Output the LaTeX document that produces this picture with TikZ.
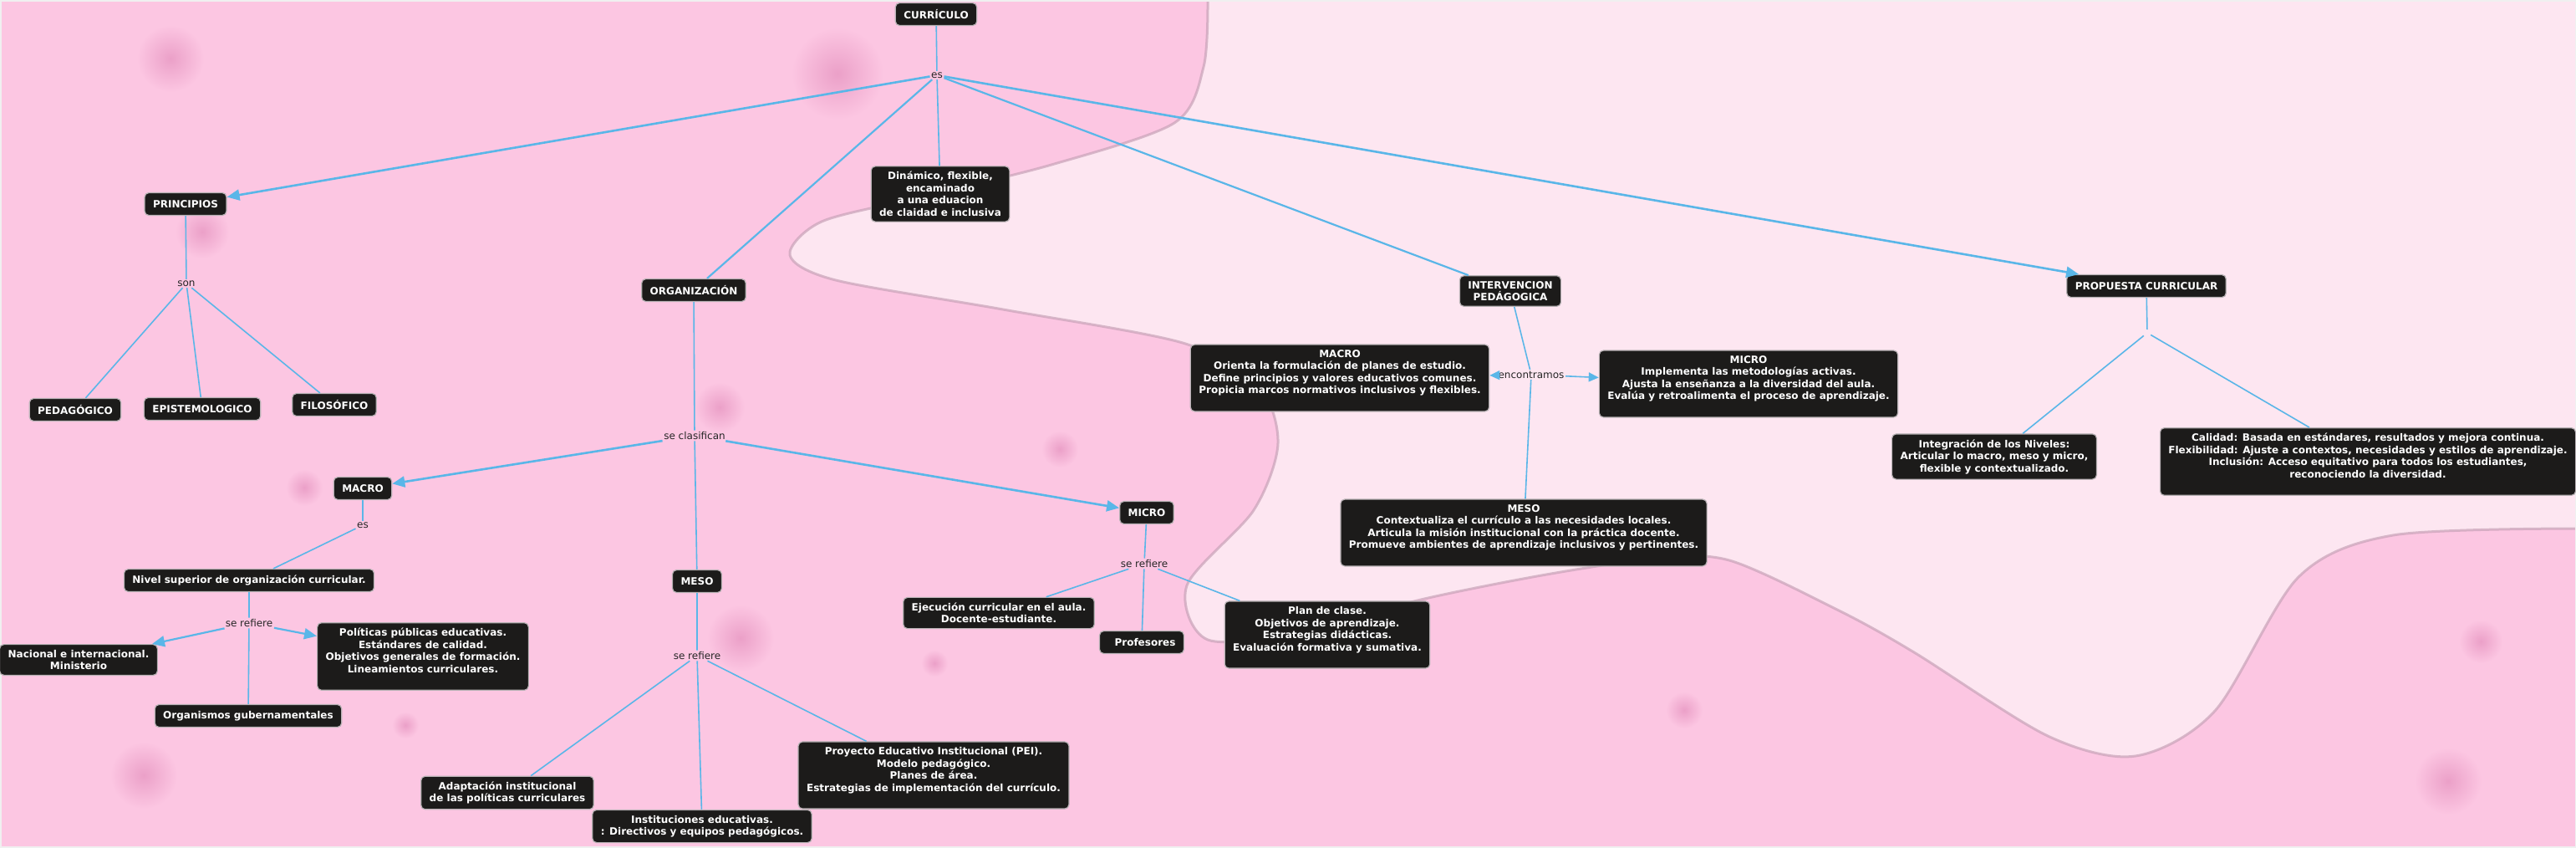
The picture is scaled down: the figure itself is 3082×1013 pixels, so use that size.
\documentclass[tikz,border=0pt]{standalone}
\usepackage{fontspec}
\setmainfont{DejaVu Sans}
\usetikzlibrary{arrows.meta, positioning}

\definecolor{pinkdeep}{HTML}{FCC6E2}
\definecolor{pinklight}{HTML}{FDE6F1}
\definecolor{mauve}{HTML}{C8A2B8}
\definecolor{spotpink}{HTML}{EBA0C8}
\definecolor{boxblack}{HTML}{1C1B1A}
\definecolor{boxedge}{HTML}{B8B2B5}
\definecolor{linkblue}{HTML}{5AB6E8}

\begin{document}
\begin{tikzpicture}[
    x=1pt, y=-1pt,
    % Define box styles
    concept/.style={
        rectangle,
        rounded corners=5pt,
        fill=boxblack,
        draw=boxedge,
        line width=1.2pt,
        text=white,
        minimum height=27pt,
        inner xsep=10pt,
        inner ysep=6.5pt,
        align=center,
        font=\fontsize{12}{14.5}\selectfont\bfseries
    },
    linkword/.style={
        inner sep=1.5pt,
        text=black!85,
        font=\fontsize{12}{13}\selectfont
    },
    link/.style={draw=linkblue, line width=1.6pt},
    arrowlink/.style={link, -{Triangle[length=15pt, width=13pt]}}
]
    \useasboundingbox (0,0) rectangle (3082,1013);

    % =================================================================
    % --- Background ---
    % =================================================================
    \fill[pinkdeep] (0,0) rectangle (3082,1013);
    \fill[pinklight] (3082,0) -- (1445,0) -- plot[smooth] coordinates {(1445,0) (1440,80) (1405,147) (1258,197) (1100,236) (983,265) (945,305) (1000,335) (1200,370) (1415,410) (1505,460) (1529,530) (1500,610) (1420,700) (1445,765) (1560,755) (1700,717) (1850,687) (1980,668) (2069,670) (2200,730) (2290,780) (2450,880) (2555,904) (2650,850) (2750,690) (2863,640) (3082,632)} -- cycle;
    \draw[mauve, line width=3pt, opacity=0.7] plot[smooth] coordinates {(1445,0) (1440,80) (1405,147) (1258,197) (1100,236) (983,265) (945,305) (1000,335) (1200,370) (1415,410) (1505,460) (1529,530) (1500,610) (1420,700) (1445,765) (1560,755) (1700,717) (1850,687) (1980,668) (2069,670) (2200,730) (2290,780) (2450,880) (2555,904) (2650,850) (2750,690) (2863,640) (3082,632)};
    \foreach \x/\y/\r in {204/70/40, 1002/88/55, 242/277/32, 861/487/30, 364/583/22, 886/763/40, 172/927/40, 485/867/16, 1268/537/22, 1118/793/16, 2968/767/26, 2015/849/22, 2929/934/40} {
        \shade[inner color=spotpink, outer color=pinkdeep] (\x,\y) circle (\r);
    }
    \draw[gray!12, line width=3pt] (0,0) rectangle (3082,1013);

    % =================================================================
    % --- Top level ---
    % =================================================================
    \node[concept] (curriculo_box) at (1120,17) {CURRÍCULO};
    \node[linkword] (es_top) at (1121,90) {es};
    \node[concept] (principios_box) at (222,244) {PRINCIPIOS};
    \node[concept] (dinamico_box) at (1125,232) {Dinámico, flexible,\\encaminado\\a una eduacion\\de claidad e inclusiva};
    \node[concept] (organizacion_box) at (830,347) {ORGANIZACIÓN};
    \node[concept] (intervencion_box) at (1807,348) {INTERVENCION\\PEDÁGOGICA};
    \node[concept] (propuesta_box) at (2568,342) {PROPUESTA CURRICULAR};

    \draw[link] (curriculo_box) -- (es_top);
    \draw[link] (es_top) -- (dinamico_box);
    \draw[arrowlink, line width=2.6pt] (es_top) -- (principios_box);
    \draw[arrowlink, line width=2.6pt] (es_top) -- (propuesta_box);
    \draw[link, line width=2.2pt] (es_top) -- (organizacion_box);
    \draw[link, line width=2.2pt] (es_top) -- (intervencion_box);

    % Principios
    \node[linkword] (son_lbl) at (223,339) {son};
    \node[concept] (pedagogico_box) at (90,490) {PEDAGÓGICO};
    \node[concept] (epistemologico_box) at (242,489) {EPISTEMOLOGICO};
    \node[concept] (filosofico_box) at (400,484) {FILOSÓFICO};
    \draw[link] (principios_box) -- (son_lbl);
    \foreach \target in {pedagogico_box, epistemologico_box, filosofico_box} {
        \draw[link] (son_lbl) -- (\target);
    }

    % =================================================================
    % --- Organizacion ---
    % =================================================================
    \node[linkword] (clasifican_lbl) at (831,521) {se clasifican};
    \node[concept] (macro_box) at (434,584) {MACRO};
    \node[concept] (meso_box) at (834,695) {MESO};
    \node[concept] (micro_box) at (1372,613) {MICRO};
    \draw[link] (organizacion_box) -- (clasifican_lbl) -- (meso_box);
    \draw[arrowlink, line width=2.6pt] (clasifican_lbl) -- (macro_box);
    \draw[arrowlink, line width=2.6pt] (clasifican_lbl) -- (micro_box);

    % Macro
    \node[linkword] (es_macro) at (434,628) {es};
    \node[concept] (nivel_box) at (298,694) {Nivel superior de organización curricular.};
    \node[linkword] (refiere_macro) at (298,745) {se refiere};
    \node[concept] (nacional_box) at (94,789) {Nacional e internacional.\\Ministerio};
    \node[concept] (politicas_box) at (506,785) {Políticas públicas educativas.\\Estándares de calidad.\\Objetivos generales de formación.\\Lineamientos curriculares.\\~};
    \node[concept] (organismos_box) at (297,856) {Organismos gubernamentales};
    \draw[link] (macro_box) -- (es_macro) -- (nivel_box);
    \draw[link] (nivel_box) -- (refiere_macro) -- (organismos_box);
    \draw[arrowlink, line width=2.2pt] (refiere_macro) -- (nacional_box);
    \draw[arrowlink, line width=2.2pt] (refiere_macro) -- (politicas_box);

    % Meso
    \node[linkword] (refiere_meso) at (834,784) {se refiere};
    \node[concept] (adaptacion_box) at (607,948) {Adaptación institucional\\de las políticas curriculares};
    \node[concept] (instituciones_box) at (840,988) {Instituciones educativas.\\: Directivos y equipos pedagógicos.};
    \node[concept] (pei_box) at (1117,927) {Proyecto Educativo Institucional (PEI).\\Modelo pedagógico.\\Planes de área.\\Estrategias de implementación del currículo.\\~};
    \draw[link] (meso_box) -- (refiere_meso) -- (instituciones_box);
    \draw[link] (refiere_meso) -- (adaptacion_box);
    \draw[link] (refiere_meso) -- (pei_box);

    % Micro
    \node[linkword] (refiere_micro) at (1369,674) {se refiere};
    \node[concept] (ejecucion_box) at (1195,733) {Ejecución curricular en el aula.\\Docente-estudiante.};
    \node[concept] (profesores_box) at (1366,768) {\hspace{8pt}Profesores};
    \node[concept] (plan_box) at (1588,759) {Plan de clase.\\Objetivos de aprendizaje.\\Estrategias didácticas.\\Evaluación formativa y sumativa.\\~};
    \draw[link] (micro_box) -- (refiere_micro) -- (profesores_box);
    \draw[link] (refiere_micro) -- (ejecucion_box);
    \draw[link] (refiere_micro) -- (plan_box);

    % =================================================================
    % --- Intervencion pedagogica ---
    % =================================================================
    \node[linkword] (encontramos_lbl) at (1832,448) {encontramos};
    \node[concept] (macro_big) at (1603,452) {MACRO\\Orienta la formulación de planes de estudio.\\Define principios y valores educativos comunes.\\Propicia marcos normativos inclusivos y flexibles.\\~};
    \node[concept] (micro_big) at (2092,459) {MICRO\\Implementa las metodologías activas.\\Ajusta la enseñanza a la diversidad del aula.\\Evalúa y retroalimenta el proceso de aprendizaje.\\~};
    \node[concept] (meso_big) at (1823,637) {MESO\\Contextualiza el currículo a las necesidades locales.\\Articula la misión institucional con la práctica docente.\\Promueve ambientes de aprendizaje inclusivos y pertinentes.\\~};
    \draw[link] (intervencion_box) -- (encontramos_lbl) -- (meso_big);
    \draw[arrowlink, -{Triangle[length=12pt, width=11pt]}] (encontramos_lbl) -- (macro_big);
    \draw[arrowlink, -{Triangle[length=12pt, width=11pt]}] (encontramos_lbl) -- (micro_big);

    % =================================================================
    % --- Propuesta curricular ---
    % =================================================================
    \node[inner sep=4pt] (propuesta_hub) at (2569,398) {};
    \node[concept] (integracion_box) at (2386,546) {Integración de los Niveles:\\Articular lo macro, meso y micro,\\flexible y contextualizado.};
    \node[concept] (calidad_box) at (2833,552) {Calidad: Basada en estándares, resultados y mejora continua.\\Flexibilidad: Ajuste a contextos, necesidades y estilos de aprendizaje.\\Inclusión: Acceso equitativo para todos los estudiantes,\\reconociendo la diversidad.\\~};
    \draw[link] (propuesta_box) -- (propuesta_hub);
    \draw[link] (propuesta_hub) -- (integracion_box);
    \draw[link] (propuesta_hub) -- (calidad_box);
\end{tikzpicture}
\end{document}
